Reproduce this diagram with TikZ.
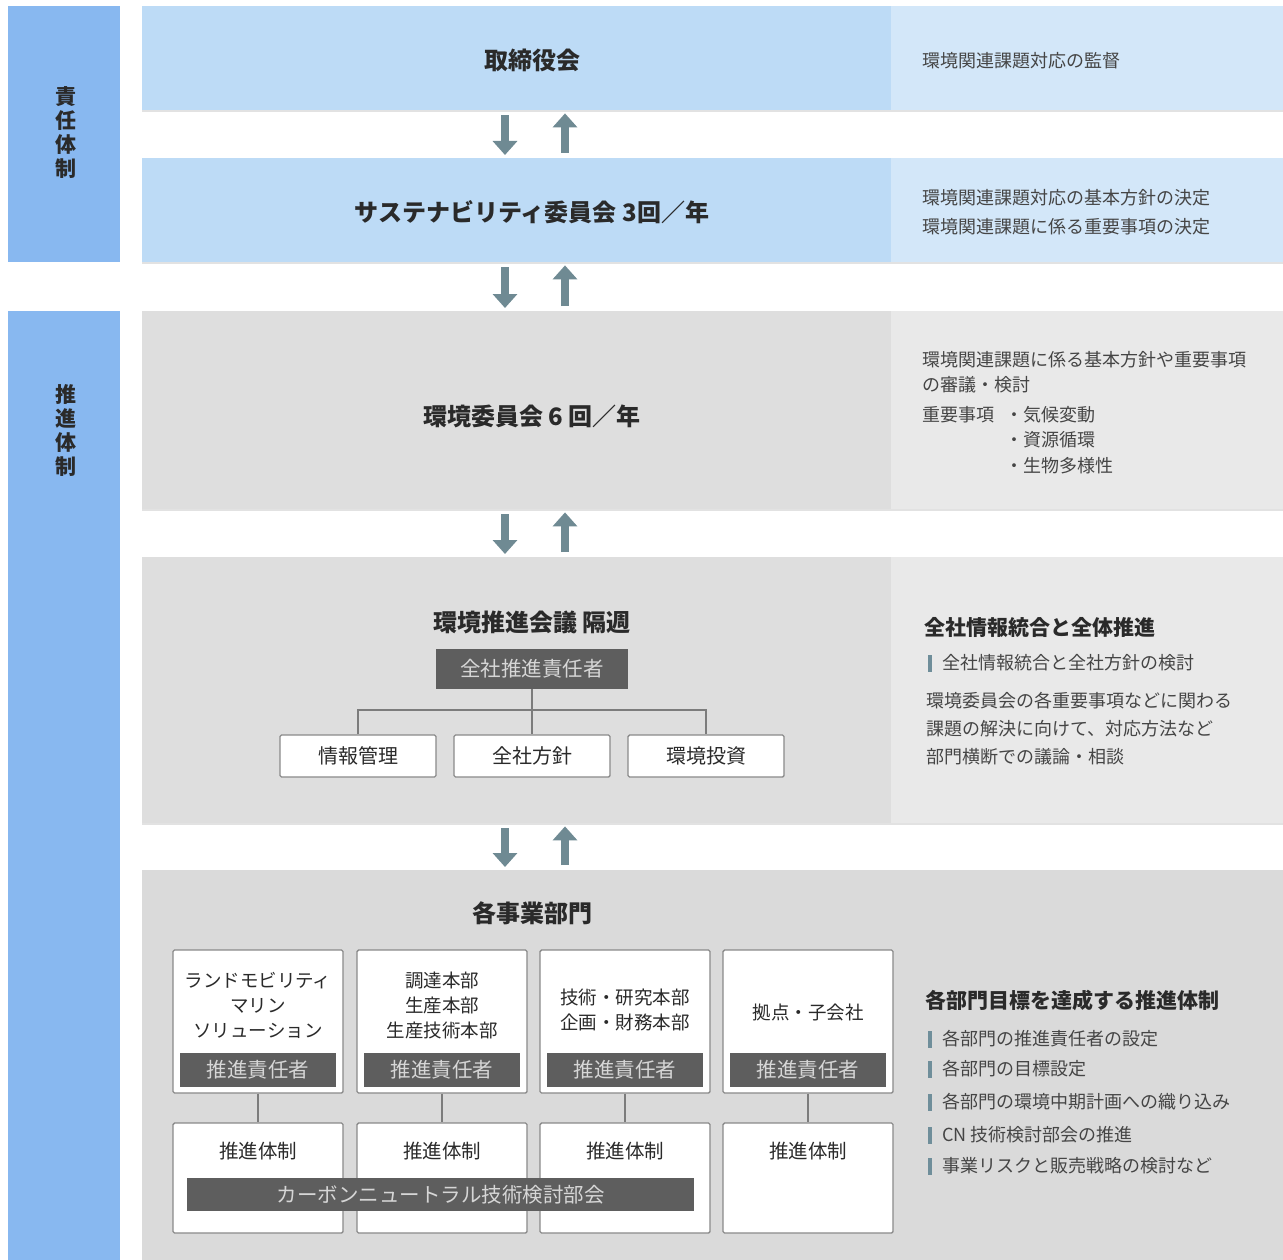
\documentclass[tikz,border=0pt]{standalone}
\usepackage{fontspec}
\setmainfont{Noto Sans CJK JP}
\usetikzlibrary{arrows.meta,calc}
\definecolor{barblue}{HTML}{88B8F0}
\definecolor{rowblue}{HTML}{BDDBF6}
\definecolor{panelblue}{HTML}{D3E7F9}
\definecolor{rowgrey}{HTML}{DEDEDE}
\definecolor{panelgrey}{HTML}{E9E9E9}
\definecolor{arrowc}{HTML}{6F8A93}
\definecolor{darkbox}{HTML}{5E5E5E}
\definecolor{darktxt}{HTML}{D6D6D6}
\definecolor{txtmain}{HTML}{2A2A2A}
\definecolor{txtsub}{HTML}{454545}
\definecolor{boxline}{HTML}{8A8A8A}
\definecolor{itembar}{HTML}{6F8E9A}
\definecolor{sepline}{HTML}{E2E2E2}
\begin{document}
\begin{tikzpicture}[x=1pt,y=-1pt,
  band/.style={anchor=north west,inner sep=0,draw=none,minimum width=#1},
  sidebar/.style={fill=barblue,anchor=north west,inner sep=0,minimum width=112pt},
  vlabel/.style={font=\fontsize{21}{24}\selectfont\bfseries,text=txtmain,align=center,inner sep=0},
  title/.style={font=\fontsize{24}{28}\selectfont\bfseries,text=txtmain,inner sep=0},
  rtitle/.style={font=\fontsize{21}{24}\selectfont\bfseries,text=txtmain,inner sep=0,anchor=west},
  rtext/.style={font=\fontsize{18}{20}\selectfont,text=txtsub,inner sep=0,anchor=west},
  arr/.style={draw=arrowc,line width=7.5pt,-{Triangle[width=24pt,length=14pt]},shorten <=5pt,shorten >=3pt},
  whitebox/.style={draw=boxline,line width=1.4pt,fill=white,rounded corners=1.5pt,inner sep=0},
  darkbar/.style={fill=darkbox,text=darktxt,inner sep=0,font=\fontsize{20.5}{24}\selectfont},
  boxtext/.style={font=\fontsize{18.5}{25}\selectfont,text=txtmain,align=center,inner sep=0},
  tree/.style={draw=boxline!90!black,line width=1.4pt}
]
\useasboundingbox (0,0) rectangle (1283,1260);
\fill[white] (0,0) rectangle (1283,1260);

% ---------- left side bars ----------
\node[sidebar,minimum height=256pt] (sb1) at (8,6) {};
\node[sidebar,minimum height=949pt] (sb2) at (8,311) {};
\node[vlabel] (lb1) at (66,133) {責\\任\\体\\制};
\node[vlabel] (lb2) at (66,430) {推\\進\\体\\制};

% ---------- rows ----------
\node[band=749pt,fill=rowblue,minimum height=104pt] (r1) at (142,6) {};
\node[band=392pt,fill=panelblue,minimum height=104pt] (p1) at (891,6) {};
\node[band=749pt,fill=rowblue,minimum height=104pt] (r2) at (142,158) {};
\node[band=392pt,fill=panelblue,minimum height=104pt] (p2) at (891,158) {};
\node[band=749pt,fill=rowgrey,minimum height=198pt] (r3) at (142,311) {};
\node[band=392pt,fill=panelgrey,minimum height=198pt] (p3) at (891,311) {};
\node[band=749pt,fill=rowgrey,minimum height=266pt] (r4) at (142,557) {};
\node[band=392pt,fill=panelgrey,minimum height=266pt] (p4) at (891,557) {};
\node[band=1141pt,fill=rowgrey!98!black,minimum height=390pt] (r5) at (142,870) {};

% faint separators under rows
\foreach \yy in {110,262,509,823}{\draw[sepline,line width=1.5pt] (142,\yy+1) -- (1283,\yy+1);}

% ---------- arrows ----------
\coordinate (ad) at (505,0);
\coordinate (au) at (565,0);
\draw[arr] (r1.south -| ad) -- (r2.north -| ad);
\draw[arr] (r2.north -| au) -- (r1.south -| au);
\draw[arr] (r2.south -| ad) -- (r3.north -| ad);
\draw[arr] (r3.north -| au) -- (r2.south -| au);
\draw[arr] (r3.south -| ad) -- (r4.north -| ad);
\draw[arr] (r4.north -| au) -- (r3.south -| au);
\draw[arr] (r4.south -| ad) -- (r5.north -| ad);
\draw[arr] (r5.north -| au) -- (r4.south -| au);

% ---------- row 1 ----------
\node[title] (t1) at (532,60) {取締役会};
\node[rtext] (d1) at (922,61) {環境関連課題対応の監督};

% ---------- row 2 ----------
\node[title] (t2) at (532,212) {サステナビリティ委員会 3回／年};
\node[rtext] (d2a) at (922,198) {環境関連課題対応の基本方針の決定};
\node[rtext] (d2b) at (922,227) {環境関連課題に係る重要事項の決定};

% ---------- row 3 ----------
\node[title] (t3) at (532,416) {環境委員会 6 回／年};
\node[rtext] (d3a) at (922,360) {環境関連課題に係る基本方針や重要事項};
\node[rtext] (d3b) at (922,385) {の審議・検討};
\node[rtext] (d3c) at (922,415) {重要事項};
\node[rtext] (d3d) at (1005,415) {・気候変動};
\node[rtext] (d3e) at (1005,440) {・資源循環};
\node[rtext] (d3f) at (1005,466) {・生物多様性};

% ---------- row 4 ----------
\node[title] (t4) at (532,622) {環境推進会議 隔週};
\node[darkbar,minimum width=192pt,minimum height=40pt] (lead) at (532,669) {全社推進責任者};
\node[whitebox,minimum width=156pt,minimum height=42pt,font=\fontsize{20}{24}\selectfont,text=txtmain] (c1) at (358,756) {情報管理};
\node[whitebox,minimum width=156pt,minimum height=42pt,font=\fontsize{20}{24}\selectfont,text=txtmain] (c2) at (532,756) {全社方針};
\node[whitebox,minimum width=156pt,minimum height=42pt,font=\fontsize{20}{24}\selectfont,text=txtmain] (c3) at (706,756) {環境投資};
\coordinate (jn) at (532,710);
\draw[tree] (lead.south) -- (jn);
\draw[tree] (c1.north) |- (jn) -| (c3.north);
\draw[tree] (jn) -- (c2.north);

\node[rtitle] (h4) at (924,627) {全社情報統合と全体推進};
\node[rtext] (i4) at (942,663) {全社情報統合と全社方針の検討};
\fill[itembar] ($(i4.west)+(-14,-8)$) rectangle ($(i4.west)+(-10,9)$);
\node[rtext] (d4a) at (926,701) {環境委員会の各重要事項などに関わる};
\node[rtext] (d4b) at (926,729) {課題の解決に向けて、対応方法など};
\node[rtext] (d4c) at (926,757) {部門横断での議論・相談};

% ---------- row 5 ----------
\node[title] (t5) at (532,913) {各事業部門};

\foreach \n/\cx in {1/258,2/442,3/625,4/808}{
  \node[whitebox,minimum width=170pt,minimum height=143pt] (u\n) at (\cx,1021.5) {};
  \node[darkbar,minimum width=156pt,minimum height=34pt] (m\n) at (\cx,1070) {推進責任者};
  \node[whitebox,minimum width=170pt,minimum height=110pt] (l\n) at (\cx,1178) {};
  \node[boxtext,font=\fontsize{19.5}{24}\selectfont] (lt\n) at (\cx,1151) {推進体制};
  \draw[tree] (u\n.south) -- (l\n.north);
}
\node[boxtext] (ut1) at (258,1005) {ランドモビリティ\\マリン\\ソリューション};
\node[boxtext] (ut2) at (442,1005) {調達本部\\生産本部\\生産技術本部};
\node[boxtext] (ut3) at (625,1010) {技術・研究本部\\企画・財務本部};
\node[boxtext] (ut4) at (808,1012) {拠点・子会社};

\node[darkbar,minimum width=507pt,minimum height=33pt] (cn) at (440.5,1194.5) {カーボンニュートラル技術検討部会};

\node[rtitle] (h5) at (925,1000) {各部門目標を達成する推進体制};
\foreach \n/\yy/\tx in {1/1039/各部門の推進責任者の設定,2/1069/各部門の目標設定,3/1102/各部門の環境中期計画への織り込み,4/1135/CN 技術検討部会の推進,5/1166/事業リスクと販売戦略の検討など}{
  \node[rtext] (i5\n) at (942,\yy) {\tx};
  \fill[itembar] ($(i5\n.west)+(-14,-8)$) rectangle ($(i5\n.west)+(-10,9)$);
}
\end{tikzpicture}
\end{document}
